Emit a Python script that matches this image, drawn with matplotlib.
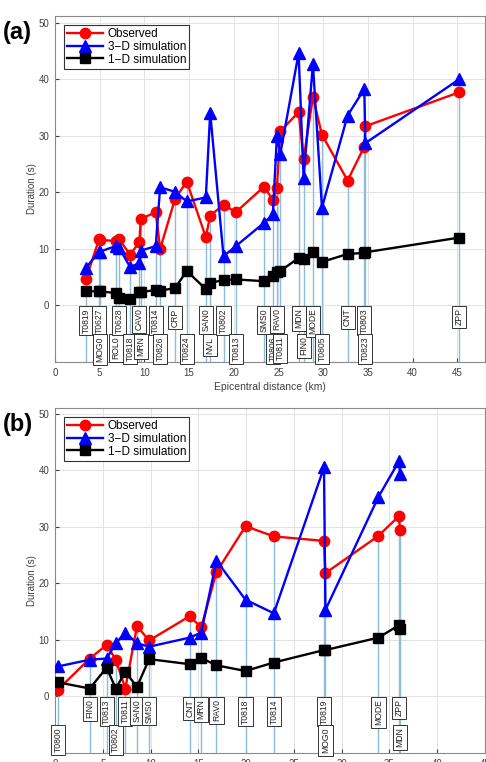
import matplotlib
matplotlib.use("Agg")
from matplotlib import pyplot as plt

plt.rcParams['font.family'] = ['Liberation Sans', 'DejaVu Sans']

# panel (a)
names_a = ['T0819', 'T0627', 'MOG0', 'ROL0', 'T0628', 'T0818', 'CAV0', 'MRN', 'T0814', 'T0826',
           'CRP', 'T0824', 'SAN0', 'NVL', 'T0802', 'T0813', 'SMS0', 'T0806', 'RAV0', 'T0811',
           'MDN', 'FIN0', 'MODE', 'T0805', 'CNT', 'T0803', 'T0823', 'ZPP']
dist_a = [3.47, 4.95, 5.0, 6.79, 7.17, 8.4, 9.44, 9.59, 11.27, 11.76,
          13.44, 14.74, 16.87, 17.36, 18.85, 20.23, 23.37, 24.37, 24.82, 25.2,
          27.25, 27.81, 28.85, 29.86, 32.73, 34.6, 34.71, 45.2]
obs_a = [4.7, 11.8, 11.6, 11.4, 11.7, 9.0, 11.2, 15.3, 16.5, 10.0,
         18.9, 21.9, 12.1, 15.9, 17.8, 16.5, 21.0, 18.7, 20.8, 30.8,
         34.2, 25.9, 36.9, 30.2, 22.1, 28.1, 31.7, 37.7]
sim3_a = [6.7, 9.5, 9.5, 10.5, 10.2, 6.8, 7.5, 9.7, 10.5, 20.9,
          20.1, 18.4, 19.1, 34.1, 8.7, 10.5, 14.6, 16.1, 29.9, 26.8,
          44.6, 22.6, 42.7, 17.3, 33.6, 38.3, 28.7, 40.0]
sim1_a = [2.5, 2.5, 2.5, 2.2, 1.3, 1.2, 2.3, 2.4, 2.7, 2.6,
          3.1, 6.1, 2.9, 4.0, 4.5, 4.6, 4.3, 5.3, 5.9, 6.1,
          8.4, 8.2, 9.5, 7.7, 9.1, 9.3, 9.4, 12.0]
row_a = [0, 0, 1, 1, 0, 1, 0, 1, 0, 1,
         0, 1, 0, 1, 0, 1, 0, 1, 0, 1,
         0, 1, 0, 1, 0, 0, 1, 0]

# panel (b)
names_b = ['T0800', 'FIN0', 'T0813', 'T0802', 'T0811', 'SAN0', 'SMS0', 'CNT', 'MRN', 'RAV0',
           'T0818', 'T0814', 'T0819', 'MOG0', 'MODE', 'ZPP', 'MDN']
dist_b = [0.3, 3.64, 5.4, 6.36, 7.36, 8.58, 9.85, 14.1, 15.3, 16.9,
          19.94, 22.9, 28.15, 28.3, 33.85, 36.0, 36.1]
obs_b = [1.2, 6.7, 9.1, 6.5, 1.4, 12.4, 9.9, 14.2, 12.2, 22.0,
         30.1, 28.3, 27.5, 21.8, 28.4, 31.9, 29.4]
sim3_b = [5.3, 6.5, 6.7, 9.4, 11.3, 9.4, 8.8, 10.4, 11.3, 24.0,
          17.1, 14.7, 40.5, 15.3, 35.3, 41.6, 39.4]
sim1_b = [2.5, 1.4, 5.1, 1.4, 4.35, 1.7, 6.6, 5.7, 6.8, 5.5,
          4.5, 6.0, 8.2, 8.2, 10.4, 12.6, 11.9]
row_b = [1, 0, 0, 1, 0, 0, 0, 0, 0, 0,
         0, 0, 0, 1, 0, 0, 1]

GRAY = '#404040'


def panel(ax, names, dist, obs, sim3, sim1, rows, xmax, ymax):
    ymin = -10
    # stems from bottom to observed value
    for x, o in zip(dist, obs):
        ax.plot([x, x], [ymin, o], color='#8cbbdb', lw=1.0, zorder=2)
    # station labels
    for name, x, r in zip(names, dist, rows):
        y0 = 0 if r == 0 else -5
        ax.text(x, y0 - 0.5, name, rotation=90, ha='center', va='top', fontsize=6.2,
                color='#222222', zorder=3,
                bbox=dict(boxstyle='square,pad=0.3', fc='white', ec='#333333', lw=0.7))
    ax.plot(dist, obs, '-o', color='red', lw=1.7, ms=7.5, label='Observed', zorder=5)
    ax.plot(dist, sim3, '-^', color='blue', lw=1.7, ms=8, label='3\u2212D simulation', zorder=5)
    ax.plot(dist, sim1, '-s', color='black', lw=1.7, ms=6.5, label='1\u2212D simulation', zorder=5)
    ax.set_xlim(0, xmax)
    ax.set_ylim(ymin, ymax)
    ax.set_xticks(range(0, 50, 5))
    ax.set_yticks(range(0, 60, 10))
    ax.grid(True, color='#e3e3e3', lw=0.7)
    ax.set_axisbelow(True)
    ax.tick_params(direction='in', length=3, labelsize=7, colors=GRAY, pad=4)
    for s in ax.spines.values():
        s.set_color('#8a8a8a')
        s.set_linewidth(0.8)
    ax.set_ylabel('Duration (s)', fontsize=7, color=GRAY, labelpad=1)
    leg = ax.legend(loc='upper left', fontsize=8.5, handlelength=3.0, borderpad=0.25,
                    labelspacing=0.05, handletextpad=0.4, borderaxespad=0.8,
                    fancybox=False, edgecolor='#333333', framealpha=1)
    leg.get_frame().set_linewidth(0.8)
    leg.set_zorder(10)


fig = plt.figure(figsize=(4.86, 7.62), dpi=100)
ax1 = fig.add_axes([55 / 486, 1 - 362 / 762, 430 / 486, 346 / 762])
ax2 = fig.add_axes([55 / 486, 1 - 753 / 762, 430 / 486, 345 / 762])

panel(ax1, names_a, dist_a, obs_a, sim3_a, sim1_a, row_a, 48.1, 51.2)
panel(ax2, names_b, dist_b, obs_b, sim3_b, sim1_b, row_b, 39.1, 51.0)
ax1.set_xlabel('Epicentral distance (km)', fontsize=7.5, color=GRAY, labelpad=3)

fig.text(3 / 486, 1 - 33 / 762, '(a)', fontsize=17, fontweight='bold', va='center')
fig.text(3 / 486, 1 - 425 / 762, '(b)', fontsize=17, fontweight='bold', va='center')

fig.savefig('out.png', dpi=100)
